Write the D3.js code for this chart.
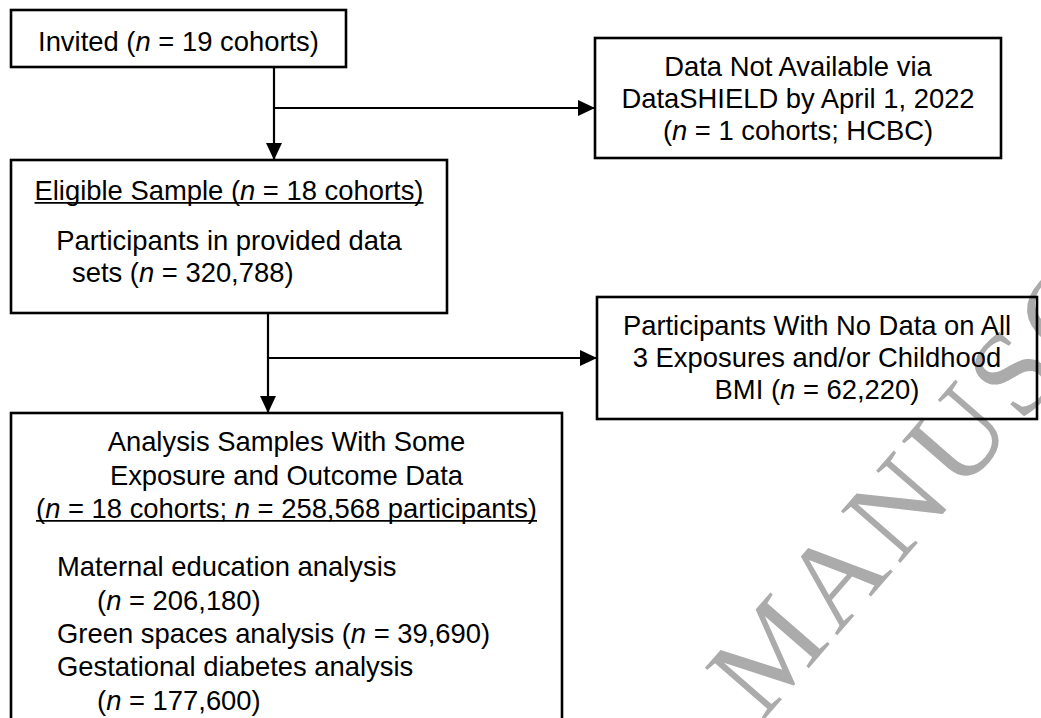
<!DOCTYPE html>
<html>
<head>
<meta charset="utf-8">
<script src="https://cdn.jsdelivr.net/npm/d3@7"></script>
<style>
  html, body { margin: 0; padding: 0; background: #fff; }
  svg { display: block; }
</style>
</head>
<body>
<div id="chart"></div>
<script>
// ---- content (text of each box) ----
const invitedLines = ["Invited (n = 19 cohorts)"];
const notAvailableLines = ["Data Not Available via", "DataSHIELD by April 1, 2022", "(n = 1 cohorts; HCBC)"];
const eligibleLines = ["Eligible Sample (n = 18 cohorts)", "Participants in provided data", "sets (n = 320,788)"];
const noDataLines = ["Participants With No Data on All", "3 Exposures and/or Childhood", "BMI (n = 62,220)"];
const analysisLines = [
  "Analysis Samples With Some",
  "Exposure and Outcome Data",
  "(n = 18 cohorts; n = 258,568 participants)",
  "Maternal education analysis",
  "(n = 206,180)",
  "Green spaces analysis (n = 39,690)",
  "Gestational diabetes analysis",
  "(n = 177,600)"
];
const watermarkText = "MANUSCRIPT";

// ---- layout ----
const W = 1041, H = 718;
const FS = 27.4;
const boxes = [
  { id: "invited", lines: invitedLines, x0: 11, y0: 10, x1: 346, y1: 67,
    rows: [{ y: 41, a: "middle" }] },
  { id: "na", lines: notAvailableLines, x0: 595, y0: 38, x1: 1001, y1: 158,
    rows: [{ y: 66, a: "middle" }, { y: 98, a: "middle" }, { y: 130, a: "middle" }] },
  { id: "eligible", lines: eligibleLines, x0: 11, y0: 160, x1: 447, y1: 313,
    rows: [{ y: 190, a: "middle", u: true }, { y: 240, a: "middle" }, { y: 272, a: "start", x: 72 }] },
  { id: "nodata", lines: noDataLines, x0: 597, y0: 297, x1: 1037, y1: 419,
    rows: [{ y: 325, a: "middle" }, { y: 357, a: "middle" }, { y: 389, a: "middle" }] },
  { id: "analysis", lines: analysisLines, x0: 11, y0: 413, x1: 562, y1: 760,
    rows: [
      { y: 441, a: "middle" }, { y: 475, a: "middle" }, { y: 508, a: "middle", u: true },
      { y: 566, a: "start", x: 57 }, { y: 600, a: "start", x: 97 },
      { y: 633, a: "start", x: 57 }, { y: 666, a: "start", x: 57 }, { y: 700, a: "start", x: 97 }
    ] }
];
// connectors: trunk x, branch y, end points
const connectors = [
  { x: 274, yStart: 67, yEnd: 160, branchY: 108, branchEnd: 595 },
  { x: 268, yStart: 313, yEnd: 413, branchY: 358, branchEnd: 597 }
];

const svg = d3.select("#chart").append("svg")
  .attr("width", W).attr("height", H)
  .attr("viewBox", `0 0 ${W} ${H}`);

svg.append("defs").append("marker")
  .attr("id", "arrow")
  .attr("viewBox", "0 0 17 16")
  .attr("refX", 17).attr("refY", 8)
  .attr("markerWidth", 17).attr("markerHeight", 16)
  .attr("markerUnits", "userSpaceOnUse")
  .attr("orient", "auto")
  .append("path").attr("d", "M0,0 L17,8 L0,16 Z").attr("fill", "#000");

// watermark
svg.append("text")
  .attr("transform", "translate(762,722) rotate(-49)")
  .attr("font-family", "'Liberation Serif', 'Times New Roman', serif")
  .attr("font-size", 120)
  .attr("letter-spacing", 7)
  .attr("fill", "#ababab")
  .text(watermarkText);

// connectors
const conG = svg.append("g").attr("stroke", "#000").attr("stroke-width", 2.2).attr("fill", "none");
connectors.forEach(c => {
  conG.append("line").attr("x1", c.x).attr("y1", c.yStart).attr("x2", c.x).attr("y2", c.yEnd)
    .attr("marker-end", "url(#arrow)");
  conG.append("line").attr("x1", c.x).attr("y1", c.branchY).attr("x2", c.branchEnd).attr("y2", c.branchY)
    .attr("marker-end", "url(#arrow)");
});

// boxes
const bG = svg.selectAll("g.box").data(boxes).enter().append("g").attr("class", "box");
bG.append("rect")
  .attr("x", d => d.x0).attr("y", d => d.y0)
  .attr("width", d => d.x1 - d.x0).attr("height", d => d.y1 - d.y0)
  .attr("fill", "none").attr("stroke", "#000").attr("stroke-width", 2.6);

function addSegments(textSel, str) {
  const re = /(^|[\s(;])n(?= =)/g;
  let last = 0, m;
  const parts = [];
  while ((m = re.exec(str)) !== null) {
    const idx = m.index + m[1].length;
    parts.push({ t: str.slice(last, idx), i: false });
    parts.push({ t: "n", i: true });
    last = idx + 1;
  }
  parts.push({ t: str.slice(last), i: false });
  parts.filter(p => p.t.length).forEach(p => {
    textSel.append("tspan").attr("font-style", p.i ? "italic" : "normal").text(p.t);
  });
}

boxes.forEach(b => {
  const g = svg.append("g");
  b.lines.forEach((line, i) => {
    const r = b.rows[i];
    const x = r.a === "middle" ? (b.x0 + b.x1) / 2 : r.x;
    const base = r.y + FS * 0.36;
    const t = g.append("text")
      .attr("x", x).attr("y", base)
      .attr("text-anchor", r.a)
      .attr("font-family", "'Liberation Sans', Arial, sans-serif")
      .attr("font-size", FS)
      .attr("fill", "#000");
    addSegments(t, line);
    if (r.u) {
      const bb = t.node().getBBox();
      g.append("line")
        .attr("x1", bb.x).attr("x2", bb.x + bb.width)
        .attr("y1", base + 3).attr("y2", base + 3)
        .attr("stroke", "#000").attr("stroke-width", 1.6);
    }
  });
});
</script>
</body>
</html>
